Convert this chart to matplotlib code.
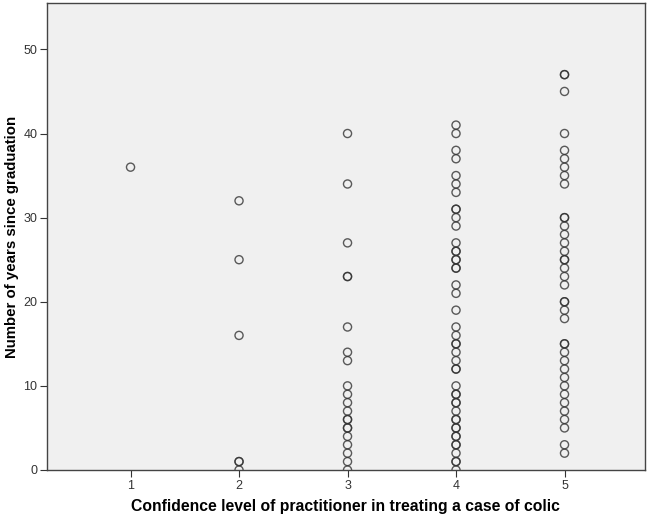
import matplotlib
matplotlib.use("Agg")
import matplotlib.pyplot as plt
import numpy as np

# Years since graduation, grouped by confidence level
level_1 = [36]
level_2 = [32, 25, 16, 1, 1, 0]
level_3 = [40, 34, 27, 23, 23, 17, 14, 13, 10, 9, 8, 7, 6, 6, 5, 5, 4, 3, 2, 1, 0]
level_4 = [41, 40, 38, 37, 35, 34, 33, 31, 31, 30, 29, 27, 26, 26, 25, 25, 24, 24,
           22, 21, 19, 17, 16, 15, 15, 14, 13, 12, 12, 10, 9, 9, 8, 8, 7, 6, 6,
           5, 5, 4, 4, 3, 3, 2, 1, 1, 0]
level_5 = [47, 47, 45, 40, 38, 37, 36, 35, 34, 30, 30, 29, 28, 27, 26, 25, 25, 24,
           23, 22, 20, 20, 19, 18, 15, 15, 14, 13, 12, 11, 10, 9, 8, 7, 6, 5, 3, 2]

groups = [level_1, level_2, level_3, level_4, level_5]
levels = [1, 2, 3, 4, 5]

plt.rcParams["font.family"] = ["Liberation Sans", "DejaVu Sans"]

fig = plt.figure(figsize=(6.5, 5.21), dpi=100)
ax = fig.add_axes([0.0723, 0.0979, 0.9197, 0.8961])
ax.set_facecolor("#f0f0f0")

for lvl, vals in zip(levels, groups):
    ax.scatter(np.full(len(vals), lvl), vals, s=34, facecolors="none",
               edgecolors="#333333", linewidths=1.0, alpha=0.8, zorder=3)

ax.set_xlim(0.23, 5.74)
ax.set_ylim(0, 55.5)
ax.set_xticks(levels)
ax.set_yticks([0, 10, 20, 30, 40, 50])
ax.tick_params(direction="out", length=5, width=0.8, color="#333333",
               labelsize=9, labelcolor="#333333", pad=2)

for sp in ax.spines.values():
    sp.set_color("#444444")
    sp.set_linewidth(1.0)

ax.set_xlabel("Confidence level of practitioner in treating a case of colic",
              fontsize=11.3, fontweight="bold", labelpad=5)
ax.set_ylabel("Number of years since graduation", fontsize=10.8,
              fontweight="bold", labelpad=3)

fig.savefig("out.png", dpi=100, facecolor="white")
